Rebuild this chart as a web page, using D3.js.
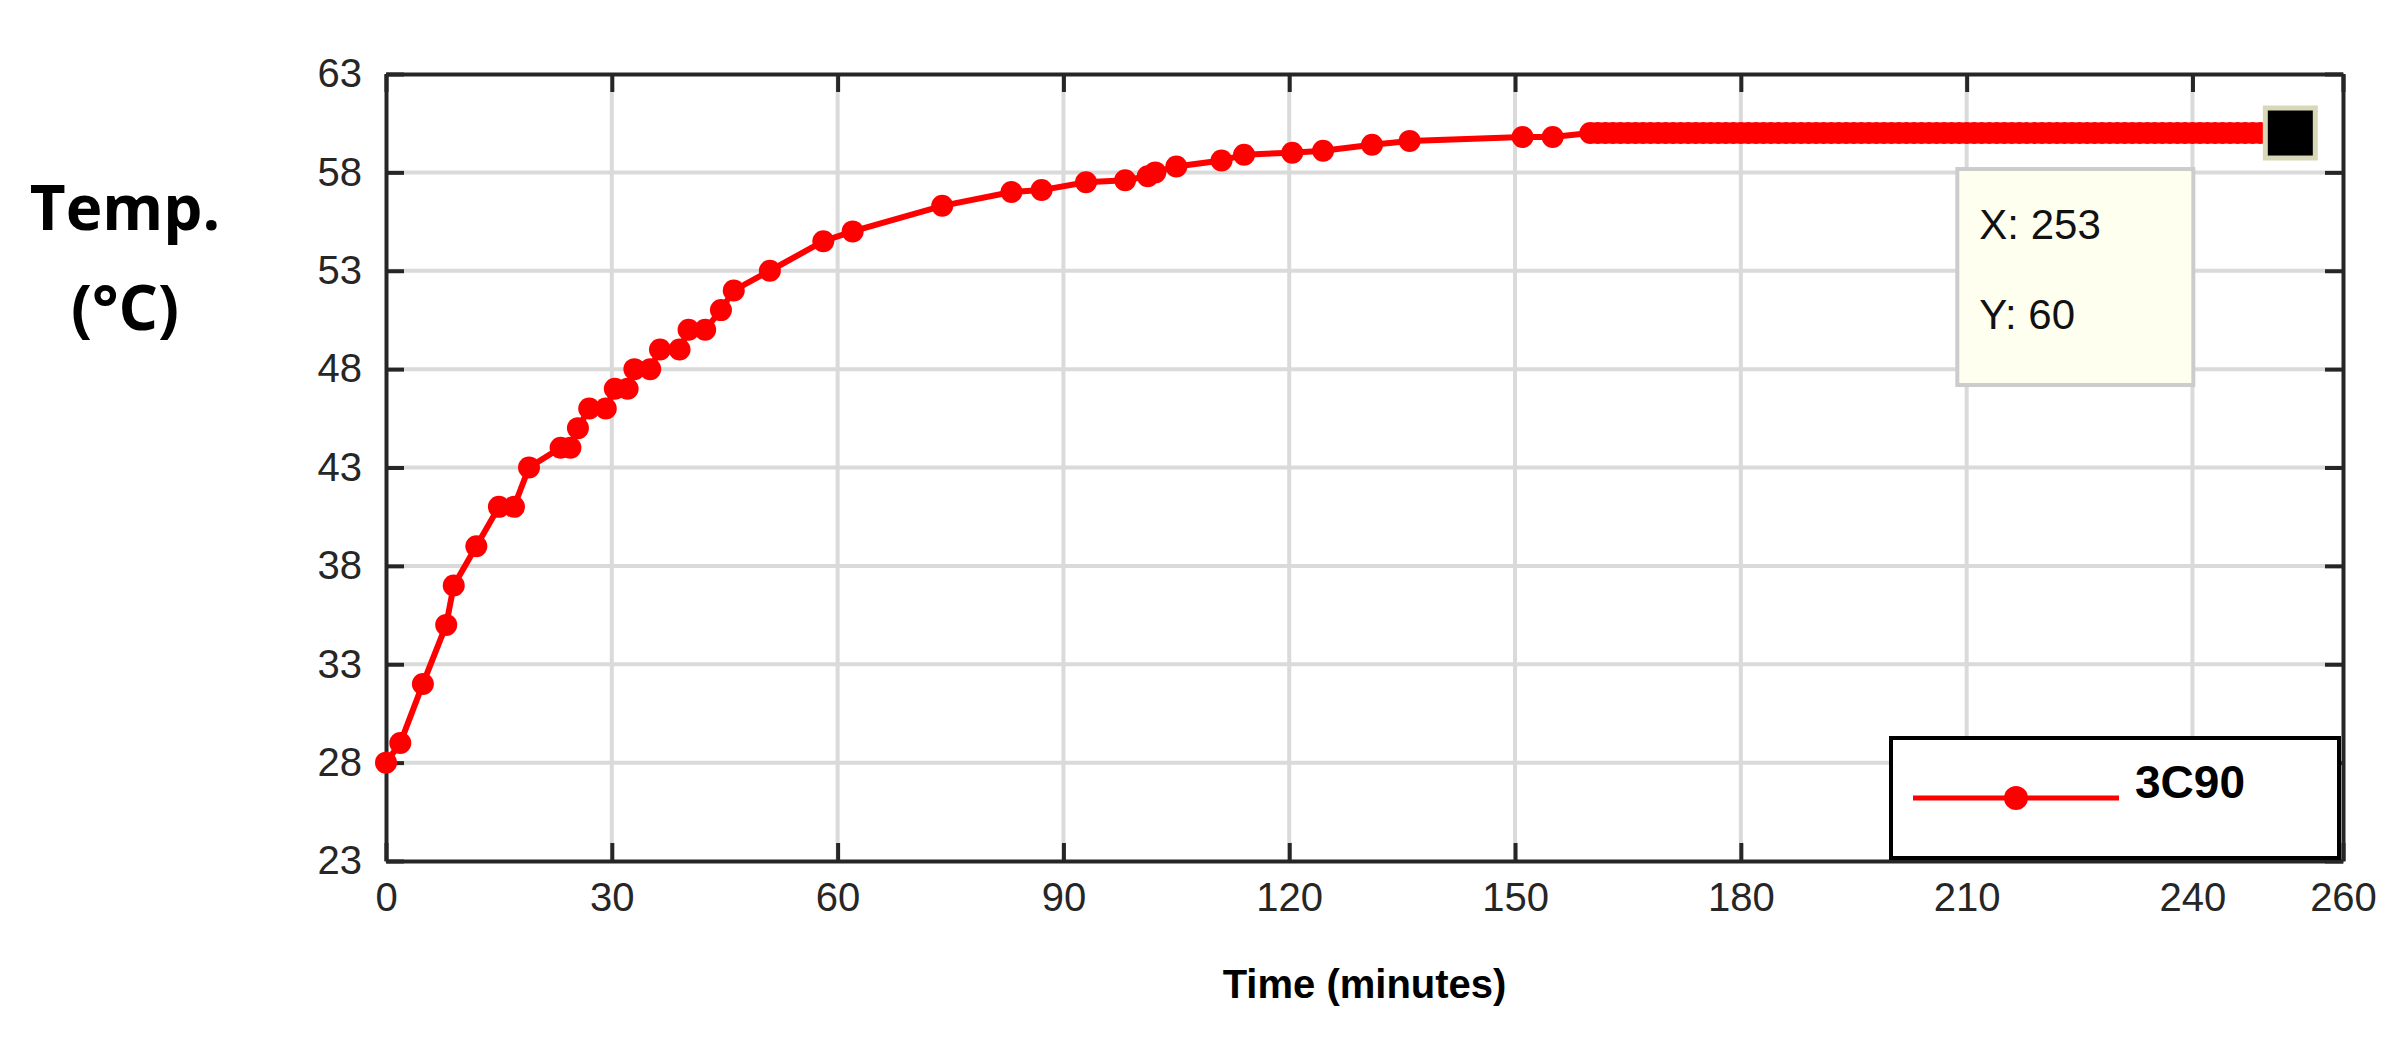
<!DOCTYPE html>
<html>
<head>
<meta charset="utf-8">
<script src="https://cdn.jsdelivr.net/npm/d3@7"></script>
<style>
  body { margin: 0; background: #fff; }
  text { font-family: "Liberation Sans", Arial, sans-serif; }
</style>
</head>
<body>
<div id="chart"></div>
<script>
// Data
var timeEarly = [0, 1.9, 4.9, 8, 9, 12, 15, 17, 19, 23.2, 24.5, 25.5, 27, 29.2, 30.4, 32.1, 33, 35.1,
  36.4, 39, 40.2, 42.4, 44.5, 46.2, 51, 58.1, 62, 73.9, 83.1, 87.1, 93, 98.2, 101.2, 102.2, 105,
  111, 114, 120.4, 124.5, 131, 136, 151, 155];
var tempEarly = [28, 29, 32, 35, 37, 39, 41, 41, 43, 44, 44, 45, 46, 46, 47, 47, 48, 48,
  49, 49, 50, 50, 51, 52, 53, 54.5, 55, 56.3, 57, 57.1, 57.5, 57.6, 57.8, 58, 58.3,
  58.6, 58.9, 59, 59.1, 59.4, 59.6, 59.8, 59.8];
var timePlateau = [160, 161, 162, 163, 164, 165, 166, 167, 168, 169, 170, 171, 172, 173, 174, 175,
  176, 177, 178, 179, 180, 181, 182, 183, 184, 185, 186, 187, 188, 189, 190, 191, 192, 193, 194,
  195, 196, 197, 198, 199, 200, 201, 202, 203, 204, 205, 206, 207, 208, 209, 210, 211, 212, 213,
  214, 215, 216, 217, 218, 219, 220, 221, 222, 223, 224, 225, 226, 227, 228, 229, 230, 231, 232,
  233, 234, 235, 236, 237, 238, 239, 240, 241, 242, 243, 244, 245, 246, 247, 248, 249, 250, 251, 252];
var tempPlateau = timePlateau.map(function() { return 60; });
var xTicks = [0, 30, 60, 90, 120, 150, 180, 210, 240, 260];
var yTicks = [23, 28, 33, 38, 43, 48, 53, 58, 63];
var seriesName = "3C90";
var tip = { x: 253, y: 60 };

var data = timeEarly.map(function(t, i) { return { t: t, v: tempEarly[i] }; })
  .concat(timePlateau.map(function(t, i) { return { t: t, v: tempPlateau[i] }; }));

var svgWidth = 2408, svgHeight = 1054;
var margin = { top: 74, right: 65, bottom: 193, left: 386 };
var width = svgWidth - margin.left - margin.right;
var height = svgHeight - margin.top - margin.bottom;
var ink = "#262626";

var svg = d3.select("#chart").append("svg")
  .attr("width", svgWidth).attr("height", svgHeight);
var g = svg.append("g").attr("transform", `translate(${margin.left}, ${margin.top})`);

var x = d3.scaleLinear().domain([0, 260]).range([0, width]);
var y = d3.scaleLinear().domain([23, 63]).range([height, 0]);

// grid
g.selectAll(".gx").data(xTicks.slice(1, -1)).enter().append("line")
  .attr("x1", d => x(d)).attr("x2", d => x(d)).attr("y1", 0).attr("y2", height)
  .attr("stroke", "#dadada").attr("stroke-width", 4);
g.selectAll(".gy").data(yTicks.slice(1, -1)).enter().append("line")
  .attr("y1", d => y(d)).attr("y2", d => y(d)).attr("x1", 0).attr("x2", width)
  .attr("stroke", "#dadada").attr("stroke-width", 4);

// axes (inward ticks, boxed)
function styleAxis(sel) {
  sel.select(".domain").attr("stroke", ink).attr("stroke-width", 4);
  sel.selectAll(".tick line").attr("stroke", ink).attr("stroke-width", 4);
  sel.selectAll("text").attr("fill", ink).attr("font-size", 40)
    .style("font-family", "'Liberation Sans', Arial, sans-serif");
}
g.append("g").attr("transform", `translate(0, ${height})`)
  .call(d3.axisBottom(x).tickValues(xTicks).tickSizeInner(-18).tickSizeOuter(0).tickPadding(22))
  .call(styleAxis);
g.append("g")
  .call(d3.axisTop(x).tickValues(xTicks).tickSizeInner(-18).tickSizeOuter(0).tickFormat(""))
  .call(styleAxis);
g.append("g")
  .call(d3.axisLeft(y).tickValues(yTicks).tickSizeInner(-18).tickSizeOuter(0).tickPadding(24))
  .call(styleAxis);
g.append("g").attr("transform", `translate(${width}, 0)`)
  .call(d3.axisRight(y).tickValues(yTicks).tickSizeInner(-18).tickSizeOuter(0).tickFormat(""))
  .call(styleAxis);

// line + markers
var line = d3.line().x(d => x(d.t)).y(d => y(d.v));
g.append("path").datum(data).attr("d", line)
  .attr("fill", "none").attr("stroke", "#ff0000").attr("stroke-width", 6);
g.selectAll(".pt").data(data).enter().append("circle")
  .attr("cx", d => x(d.t)).attr("cy", d => y(d.v)).attr("r", 11).attr("fill", "#ff0000");

// selected point marker
g.append("rect")
  .attr("x", x(tip.x) - 25).attr("y", y(tip.y) - 25).attr("width", 50).attr("height", 50)
  .attr("fill", "#000").attr("stroke", "#d8d8b8").attr("stroke-width", 5);

// datatip
var tg = g.append("g").attr("transform", `translate(${x(tip.x) - 333}, ${y(tip.y) + 36})`);
tg.append("rect").attr("width", 236).attr("height", 216)
  .attr("fill", "#fffff0").attr("stroke", "#cccccc").attr("stroke-width", 4);
tg.append("text").attr("x", 22).attr("y", 70).attr("font-size", 42).attr("fill", "#111")
  .text("X: " + tip.x);
tg.append("text").attr("x", 22).attr("y", 160).attr("font-size", 42).attr("fill", "#111")
  .text("Y: " + tip.y);

// legend
var lg = g.append("g").attr("transform", `translate(${width - 452}, ${height - 123})`);
lg.append("rect").attr("width", 448).attr("height", 120)
  .attr("fill", "#fff").attr("stroke", "#000").attr("stroke-width", 4);
lg.append("line").attr("x1", 22).attr("x2", 228).attr("y1", 60).attr("y2", 60)
  .attr("stroke", "#ff0000").attr("stroke-width", 5);
lg.append("circle").attr("cx", 125).attr("cy", 60).attr("r", 12).attr("fill", "#ff0000");
lg.append("text").attr("x", 244).attr("y", 60).attr("font-size", 46).attr("font-weight", "bold")
  .attr("fill", "#000").text(seriesName);

// axis labels
svg.append("text").attr("x", 125).attr("y", 230).attr("text-anchor", "middle")
  .attr("font-size", 62).attr("font-weight", "bold").style("font-family", "'Open Sans', sans-serif")
  .text("Temp.");
svg.append("text").attr("x", 125).attr("y", 330).attr("text-anchor", "middle")
  .attr("font-size", 62).attr("font-weight", "bold").style("font-family", "'Open Sans', sans-serif")
  .text("(°C)");
svg.append("text").attr("x", margin.left + width / 2).attr("y", 998).attr("text-anchor", "middle")
  .attr("font-size", 40).attr("font-weight", "bold").attr("fill", "#000")
  .text("Time (minutes)");
</script>
</body>
</html>
